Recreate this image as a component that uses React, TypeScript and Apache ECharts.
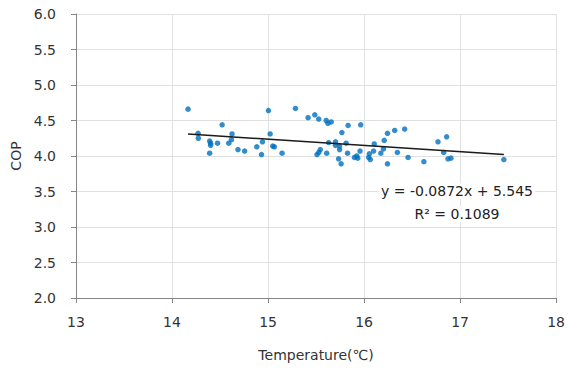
import React, { useEffect, useRef } from "react";
import * as echarts from "echarts";

const temperature = [
  14.167, 14.271, 14.274, 14.522, 14.392, 14.402, 14.402, 14.392, 14.474, 14.625,
  14.619, 14.591, 14.687, 14.756, 14.883, 14.932, 15.004, 15.022, 14.942, 15.049,
  15.066, 15.146, 15.286, 15.417, 15.487, 15.528, 15.606, 15.624, 15.658, 15.834,
  15.965, 15.769, 15.631, 15.703, 15.703, 15.745, 15.813, 15.544, 15.528, 15.51,
  15.611, 15.745, 15.735, 15.761, 15.828, 15.9, 15.924, 15.934, 15.958, 16.055,
  16.048, 16.065, 16.099, 16.106, 16.175, 16.202, 16.21, 16.244, 16.319, 16.423,
  16.244, 16.347, 16.458, 16.623, 16.77, 16.86, 16.829, 16.874, 16.905, 17.456,
];
const cop = [
  4.66, 4.32, 4.25, 4.44, 4.21, 4.18, 4.15, 4.04, 4.18, 4.31,
  4.23, 4.18, 4.09, 4.07, 4.13, 4.02, 4.64, 4.31, 4.2, 4.14,
  4.13, 4.04, 4.67, 4.54, 4.58, 4.52, 4.5, 4.46, 4.48, 4.43,
  4.44, 4.33, 4.19, 4.2, 4.15, 4.14, 4.18, 4.09, 4.05, 4.02,
  4.04, 4.09, 3.96, 3.89, 4.04, 3.98, 4.0, 3.97, 4.07, 4.03,
  3.98, 3.95, 4.07, 4.17, 4.04, 4.1, 4.22, 4.32, 4.36, 4.38,
  3.89, 4.05, 3.98, 3.92, 4.2, 4.27, 4.05, 3.96, 3.97, 3.95,
];

const slope = -0.0872;
const intercept = 5.545;
const equationText = "y = -0.0872x + 5.545";
const r2Text = "R² = 0.1089";

export default function App() {
  const ref = useRef<HTMLDivElement>(null);
  useEffect(() => {
    document.body.style.margin = "0";
    if (!ref.current) return;
    const chart = echarts.init(ref.current, null, { renderer: "svg" });
    const xMin = Math.min(...temperature);
    const xMax = Math.max(...temperature);
    const trend = [
      [xMin, slope * xMin + intercept],
      [xMax, slope * xMax + intercept],
    ];
    const font = "DejaVu Sans";
    const textColor = "#333333";
    chart.setOption({
      animation: false,
      textStyle: { fontFamily: font },
      grid: { left: 76, right: 10, top: 14, bottom: 71 },
      xAxis: {
        type: "value",
        min: 13,
        max: 18,
        interval: 1,
        name: "Temperature(℃)",
        nameLocation: "middle",
        nameGap: 50,
        nameTextStyle: { fontFamily: font, fontSize: 14, color: textColor },
        axisLine: { show: true, onZero: false, lineStyle: { color: "#868686", width: 1 } },
        axisTick: { show: true, length: 5, lineStyle: { color: "#868686" } },
        axisLabel: { fontFamily: font, fontSize: 14, color: textColor, margin: 17 },
        splitLine: { show: true, lineStyle: { color: "#e0e0e0", width: 1 } },
      },
      yAxis: {
        type: "value",
        min: 2,
        max: 6,
        interval: 0.5,
        name: "COP",
        nameLocation: "middle",
        nameGap: 52,
        nameRotate: 90,
        nameTextStyle: { fontFamily: font, fontSize: 14, color: textColor },
        axisLine: { show: true, onZero: false, lineStyle: { color: "#868686", width: 1 } },
        axisTick: { show: true, length: 5, lineStyle: { color: "#868686" } },
        axisLabel: {
          fontFamily: font,
          fontSize: 14,
          color: textColor,
          margin: 20,
          formatter: (v: number) => v.toFixed(1),
        },
        splitLine: { show: true, lineStyle: { color: "#e0e0e0", width: 1 } },
      },
      series: [
        {
          type: "scatter",
          data: temperature.map((t, i) => [t, cop[i]]),
          symbolSize: 5.5,
          itemStyle: { color: "#0070C0" },
        },
        {
          type: "line",
          data: trend,
          symbol: "none",
          lineStyle: { color: "#1a1a1a", width: 1.5 },
          z: 3,
        },
      ],
      graphic: [
        {
          type: "text",
          x: 457,
          y: 191,
          z: 100,
          style: {
            text: equationText,
            fontFamily: font,
            fontSize: 14,
            fill: "#222222",
            backgroundColor: "#ffffff",
            padding: [1, 2],
            textAlign: "center",
            textVerticalAlign: "middle",
          },
        },
        {
          type: "text",
          x: 457,
          y: 214,
          z: 100,
          style: {
            text: r2Text,
            fontFamily: font,
            fontSize: 14,
            fill: "#222222",
            backgroundColor: "#ffffff",
            padding: [1, 2],
            textAlign: "center",
            textVerticalAlign: "middle",
          },
        },
      ],
    });
    return () => chart.dispose();
  }, []);
  return <div ref={ref} style={{ width: 568, height: 369 }} />;
}
